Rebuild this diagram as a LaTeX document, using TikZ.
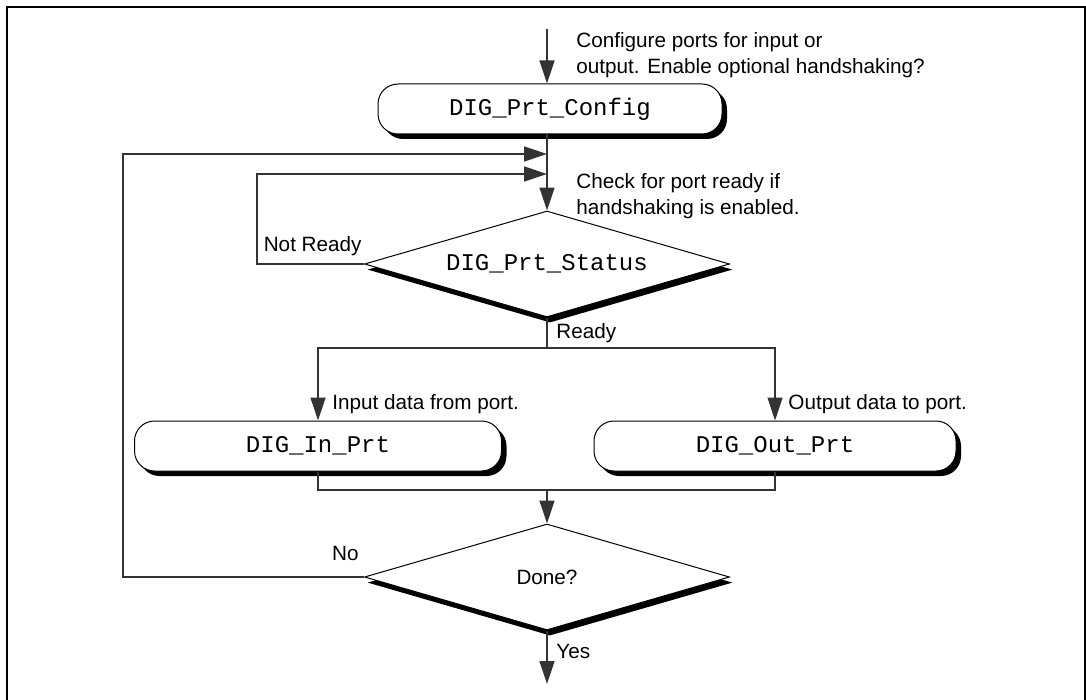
\documentclass[tikz,border=0pt]{standalone}
\usepackage{fontspec}
\setmainfont{Liberation Sans}
\setmonofont{Liberation Mono}
\usetikzlibrary{shapes.geometric,shadows,arrows.meta}

\begin{document}
\begin{tikzpicture}[x=0.5pt, y=-0.5pt, >={Triangle[length=11.5pt,width=7.5pt]},
      every node/.append style={font=\fontsize{10.35}{13}\selectfont},
      flow/.style={line width=0.65pt, draw=black!80}]
    \tikzstyle{func} = [draw, line width=0.5pt, rounded corners=10pt, fill=white,
      minimum height=25pt, inner sep=0pt, font=\fontsize{12}{14}\selectfont\ttfamily,
      general shadow={fill=black, shadow xshift=2.5pt, shadow yshift=-2.5pt}]
    \tikzstyle{test} = [diamond, aspect=3.5, draw, line width=0.5pt, fill=white, inner sep=0pt,
      minimum width=182.5pt, minimum height=53pt,
      general shadow={fill=black, shadow xshift=1.5pt, shadow yshift=-2.8pt}]
    \tikzstyle{note} = [anchor=west, align=left, inner sep=0pt]
    \useasboundingbox (0,0) rectangle (1086,700);
    % frame
    \draw[line width=1pt] (7,700) -- (7,7) -- (1084.5,7) -- (1084.5,700);
    % blocks
    \node[func, minimum width=172pt] (config) at (550,109) {DIG\_Prt\_Config};
    \node[test, font=\fontsize{12}{14}\selectfont\ttfamily] (status) at (547,264) {DIG\_Prt\_Status};
    \node[func, minimum width=183.5pt] (inprt) at (318,446) {DIG\_In\_Prt};
    \node[func, minimum width=181pt] (outprt) at (775,446) {DIG\_Out\_Prt};
    \node[test] (done) at (547,577) {Done?};
    % free ends
    \coordinate (start) at (547,29);
    \coordinate (j1) at (547,154);
    \coordinate (j2) at (547,174);
    \coordinate (split) at (547,348);
    \coordinate (merge) at (547,490);
    \coordinate (stop) at (547,684);
    % texts
    \node[note] (cfgtxt) at (576,55) {Configure ports for input or\\output. Enable optional handshaking?};
    \node[note] (chktxt) at (576,196) {Check for port ready if\\handshaking is enabled.};
    \node[anchor=east, inner sep=0pt] (notready) at (362,246) {Not Ready};
    \node[note] (ready) at (556,333) {Ready};
    \node[note] (intxt) at (332,404) {Input data from port.};
    \node[note] (outtxt) at (788,404) {Output data to port.};
    \node[anchor=east, inner sep=0pt] (no) at (359,553) {No};
    \node[note] (yes) at (556,651) {Yes};
    % connectors
    \draw[flow,->] (start) -- (start |- config.north);
    \draw[flow,->] (start |- config.south) -- (status);
    \draw[flow,->] (status.west) -- ++(-107,0) |- (j2);
    \draw[flow,->] (done.west) -- ++(-241,0) |- (j1);
    \draw[flow] (status.south) -- (split);
    \draw[flow,->] (split) -| (inprt);
    \draw[flow,->] (split) -| (outprt);
    \draw[flow] (inprt) |- (merge);
    \draw[flow] (outprt) |- (merge);
    \draw[flow,->] (merge) -- (done);
    \draw[flow,->] (done) -- (stop);
\end{tikzpicture}
\end{document}
